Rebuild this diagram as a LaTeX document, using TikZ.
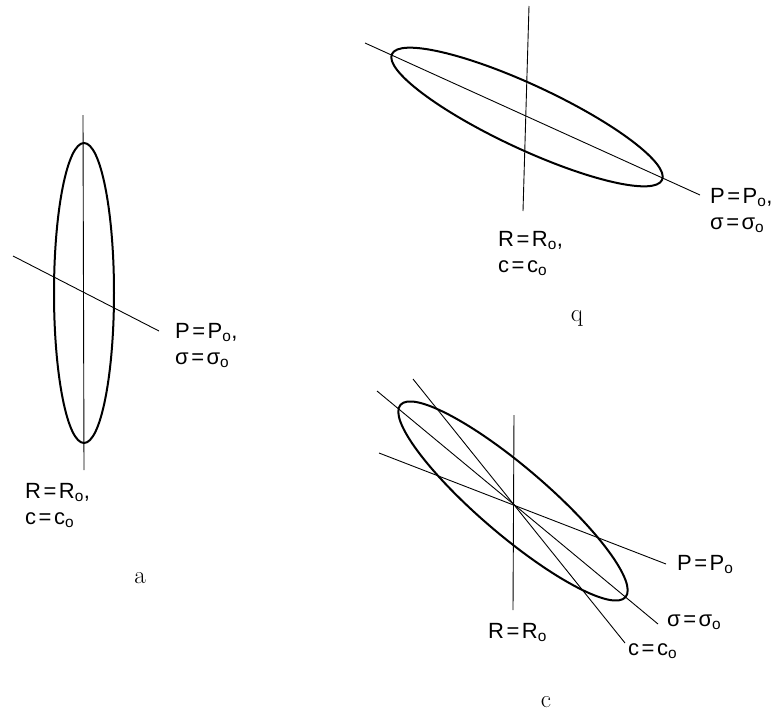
\documentclass[tikz,border=0pt]{standalone}
\usepackage{fontspec}
\newfontfamily\handfont{Liberation Sans}
\usetikzlibrary{positioning}
\newcommand{\nought}{\textsubscript{o}}
\newcommand{\eqs}{\kern2.5pt=\kern2.5pt}

\begin{document}
\begin{tikzpicture}[
    x=1pt, y=-1pt,
    axis/.style={line width=0.9pt},
    oval/.style={line width=2pt},
    lbl/.style={font=\handfont\fontsize{22}{26}\selectfont, align=left,
                inner sep=0pt, anchor=north west},
    caption/.style={font=\rmfamily\fontsize{25}{28}\selectfont, inner sep=0pt}
  ]
  \useasboundingbox (0,0) rectangle (780,713);

  % panel a
  \coordinate (aV1) at (83,115);
  \coordinate (aV2) at (84,470);
  \coordinate (aP1) at (13,256);
  \coordinate (aP2) at (159,331);
  \coordinate (aC) at (84,293);
  \draw[oval] (aC) ellipse [x radius=30pt, y radius=150pt];
  \draw[axis] (aV1) -- (aV2);
  \draw[axis] (aP1) -- (aP2);
  \node[lbl] (aPlab) at (175,323) {P\eqs P\nought,\\σ\eqs σ\nought};
  \node[lbl] (aRlab) at (25,483) {R\eqs R\nought,\\c\eqs c\nought};
  \node[caption] (acap) at (140,578) {a};

  % panel q
  \coordinate (qV1) at (529,6);
  \coordinate (qV2) at (523,211);
  \coordinate (qP1) at (365,43);
  \coordinate (qP2) at (700,195);
  \coordinate (qC) at (527,117);
  \draw[oval, rotate around={-25:(qC)}] (qC) ellipse [x radius=149pt, y radius=32pt];
  \draw[axis] (qV1) -- (qV2);
  \draw[axis] (qP1) -- (qP2);
  \node[lbl] (qPlab) at (710,188) {P\eqs P\nought,\\σ\eqs σ\nought};
  \node[lbl] (qRlab) at (498,231) {R\eqs R\nought,\\c\eqs c\nought};
  \node[caption] (qcap) at (577,318) {q};

  % panel c
  \coordinate (cV1) at (514,415);
  \coordinate (cV2) at (513,610);
  \coordinate (cP1) at (379,453);
  \coordinate (cP2) at (666,564);
  \coordinate (cS1) at (377,391);
  \coordinate (cS2) at (658,624);
  \coordinate (cc1) at (413,379);
  \coordinate (cc2) at (625,643);
  \coordinate (cC) at (513,501);
  \draw[oval, rotate around={-40.5:(cC)}] (cC) ellipse [x radius=148pt, y radius=34pt];
  \draw[axis] (cV1) -- (cV2);
  \draw[axis] (cP1) -- (cP2);
  \draw[axis] (cS1) -- (cS2);
  \draw[axis] (cc1) -- (cc2);
  \node[lbl] (cPlab) at (677,555) {P\eqs P\nought};
  \node[lbl] (cSlab) at (667,615) {σ\eqs σ\nought};
  \node[lbl] (cclab) at (628,643) {c\eqs c\nought};
  \node[lbl] (cRlab) at (488,623) {R\eqs R\nought};
  \node[caption] (ccap) at (546,702) {c};
\end{tikzpicture}
\end{document}
